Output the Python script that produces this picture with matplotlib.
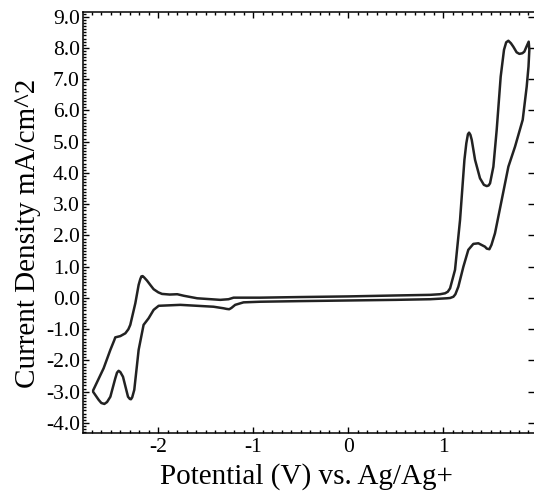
#!/usr/bin/env python
"""
Cyclic voltammogram, current density vs. potential (Ag/Ag+ reference).
"""

import matplotlib
matplotlib.use('Agg')
import matplotlib.pyplot as plt
from matplotlib.ticker import MultipleLocator, FormatStrFormatter

# forward scan
fwd_v = [-2.687, -2.576, -2.505, -2.465, -2.453, -2.40, -2.347, -2.315, -2.295, -2.242,
         -2.207, -2.19, -2.178, -2.165, -2.15, -2.12, -2.08, -2.049, -2.0, -1.961,
         -1.88, -1.80, -1.73, -1.59, -1.347, -1.26, -1.207, -0.926, -0.5, 0.0,
         0.5, 0.863, 0.968, 1.021, 1.05, 1.074, 1.126, 1.179, 1.225, 1.245,
         1.262, 1.274, 1.288, 1.302, 1.337, 1.389, 1.43, 1.46, 1.48, 1.495,
         1.53, 1.565, 1.607, 1.642, 1.665, 1.688, 1.715, 1.74, 1.775, 1.804,
         1.835, 1.856, 1.88, 1.902]
fwd_j = [-2.96, -2.25, -1.66, -1.36, -1.26, -1.22, -1.13, -1.0, -0.86, -0.17,
         0.42, 0.60, 0.69, 0.70, 0.66, 0.56, 0.40, 0.28, 0.18, 0.13,
         0.11, 0.12, 0.07, -0.01, -0.06, -0.04, 0.01, 0.01, 0.03, 0.05,
         0.08, 0.10, 0.12, 0.15, 0.20, 0.31, 0.90, 2.50, 4.42, 4.95,
         5.24, 5.29, 5.22, 5.06, 4.42, 3.83, 3.62, 3.58, 3.60, 3.67,
         4.20, 5.38, 7.08, 7.94, 8.18, 8.23, 8.15, 8.04, 7.86, 7.81,
         7.83, 7.88, 8.05, 8.20]

# reverse scan
rev_v = [1.902, 1.909, 1.90, 1.881, 1.839, 1.758, 1.688, 1.618, 1.547, 1.51,
         1.488, 1.46, 1.442, 1.372, 1.319, 1.266, 1.214, 1.161, 1.13, 1.109,
         1.075, 1.039, 0.863, 0.5, 0.0, -0.5, -0.926, -1.102, -1.19, -1.23,
         -1.253, -1.28, -1.312, -1.418, -1.768, -1.996, -2.049, -2.102, -2.155, -2.207,
         -2.253, -2.275, -2.288, -2.30, -2.319, -2.372, -2.40, -2.418, -2.435, -2.453,
         -2.505, -2.54, -2.568, -2.60, -2.628, -2.687]
rev_j = [8.20, 7.94, 7.40, 6.76, 5.70, 4.84, 4.20, 3.14, 2.07, 1.70,
         1.56, 1.58, 1.64, 1.75, 1.73, 1.54, 1.00, 0.36, 0.12, 0.04,
         0.0, -0.01, -0.04, -0.06, -0.08, -0.10, -0.12, -0.14, -0.22, -0.32,
         -0.36, -0.35, -0.33, -0.28, -0.22, -0.25, -0.38, -0.65, -0.86, -1.66,
         -2.94, -3.18, -3.24, -3.23, -3.16, -2.52, -2.37, -2.33, -2.39, -2.57,
         -3.16, -3.33, -3.39, -3.36, -3.26, -3.00]

x_ticks = [-2, -1, 0, 1]

plt.rcParams['font.family'] = ['Liberation Serif', 'DejaVu Serif']
plt.rcParams['axes.unicode_minus'] = False

fig = plt.figure(figsize=(5.34, 4.97), dpi=100)
ax = fig.add_axes([0.156, 0.1294, 1.0 - 0.156, 0.9765 - 0.1294])

ax.plot(fwd_v + rev_v, fwd_j + rev_j, color='#222222', lw=1.8,
        solid_joinstyle='round', solid_capstyle='round')

ax.set_xlim(-2.79, 1.958)
ax.set_ylim(-4.31, 9.16)

ax.set_xticks(x_ticks)
ax.xaxis.set_minor_locator(MultipleLocator(0.1))
ax.yaxis.set_major_locator(MultipleLocator(1.0))
ax.yaxis.set_minor_locator(MultipleLocator(0.1))
ax.yaxis.set_major_formatter(FormatStrFormatter('%.1f'))
ax.xaxis.set_major_formatter(FormatStrFormatter('%d'))

ax.spines['right'].set_visible(False)
for s in ['left', 'top', 'bottom']:
    ax.spines[s].set_linewidth(1.1)

ax.tick_params(which='both', direction='in', width=1.0, labelsize=15.5)
ax.tick_params(axis='x', which='both', top=True)
ax.tick_params(axis='y', which='major', right=True)
ax.tick_params(which='major', length=4.5)
ax.tick_params(which='minor', length=2.2)
ax.tick_params(axis='x', which='major', pad=3.5)
ax.tick_params(axis='y', which='major', pad=2.5)

ax.set_xlabel('Potential (V) vs. Ag/Ag+', fontsize=21)
ax.set_ylabel('Current Density mA/cm^2', fontsize=21)
ax.xaxis.set_label_coords(0.494, -0.071)
ax.yaxis.set_label_coords(-0.093, 0.473)

fig.savefig('out.png', dpi=100)
